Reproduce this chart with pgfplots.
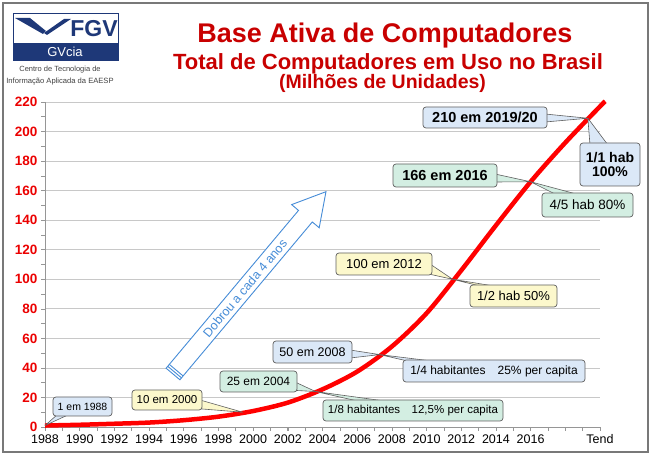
\documentclass[border=0pt]{standalone}
\usepackage{pgfplots}
\pgfplotsset{compat=1.18}
\usepackage{pgfplotstable}
\usepackage{fontspec}
\setmainfont{Liberation Sans}
\definecolor{titred}{RGB}{200,0,0}
\definecolor{tickred}{RGB}{235,0,0}
\definecolor{cblue}{RGB}{219,232,247}
\definecolor{cgreen}{RGB}{211,238,226}
\definecolor{cyellow}{RGB}{252,248,204}
\definecolor{cborder}{RGB}{95,95,95}
\definecolor{fgvblue}{RGB}{30,56,120}
\definecolor{arrblue}{RGB}{70,140,215}
\definecolor{gridgray}{RGB}{200,200,200}
\definecolor{axgray}{RGB}{150,150,150}
\definecolor{framegray}{RGB}{120,120,120}

\pgfplotstableread{
year value
1988 1.0
1990 1.5
1992 2.2
1994 3.0
1996 4.6
1998 7.0
2000 10.8
2002 16.5
2004 25.5
2006 37.5
2008 54.5
2010 77.0
2012 106.0
2014 136.5
2016 166.0
2018 192.5
2020 217.0
2020.3 220.5
}\datatable

\newcommand{\callout}[9]{%
  \fill[#1] (#6) -- (#8) -- (#7) -- cycle;
  \draw[cborder, line width=0.6pt, line join=round] (#6) -- (#8) -- (#7);
  \draw[cborder, line width=0.7pt, fill=#1, rounded corners=3pt] (#2,#3) rectangle (#4,#5);
  \node[align=center, inner sep=0pt] at ({(#2+#4)/2},{(#3+#5)/2}) {#9};
}

\begin{document}
\begin{tikzpicture}
\begin{axis}[
  at={(45pt,28pt)}, anchor=south west,
  width=555pt, height=325pt, scale only axis,
  xmin=1988, xmax=2020, ymin=0, ymax=220,
  clip=false,
  axis x line*=bottom, axis y line*=left,
  axis line style={draw=axgray, line width=0.8pt},
  xtick={1988,1990,...,2016,2020},
  xticklabels={1988,1990,1992,1994,1996,1998,2000,2002,2004,2006,2008,2010,2012,2014,2016,Tend},
  minor xtick={1988,...,2020},
  ytick={0,20,...,220},
  minor ytick={10,30,...,210},
  tick align=outside,
  major tick length=4pt, minor tick length=4pt,
  every tick/.style={draw=axgray, line width=0.6pt},
  ymajorgrids, major grid style={draw=gridgray, line width=0.8pt},
  /pgf/number format/assume math mode=true,
  yticklabel style={font=\fontsize{13.5}{13.5}\selectfont\bfseries, text=tickred},
  xticklabel style={font=\fontsize{12.5}{12.5}\selectfont, text=black},
]
\addplot[draw=red, line width=4.5pt, smooth] table[x=year,y=value]{\datatable};
\coordinate (t1988) at (axis cs:1988,1);
\coordinate (t2000) at (axis cs:1999.4,10);
\coordinate (t2004) at (axis cs:2003.6,24);
\coordinate (t2008) at (axis cs:2007.3,49);
\coordinate (t2012) at (axis cs:2011.5,100);
\coordinate (t2016) at (axis cs:2016,166);
\coordinate (t2020) at (axis cs:2019.3,209);
\end{axis}

\begin{scope}[x=1pt, y=-1pt, yshift=455pt]
  % frame
  \draw[framegray, line width=1.2pt] (3,3) rectangle (648,452);
  % logo
  \draw[fgvblue, line width=0.8pt, fill=white] (13,13) rectangle (118,60);
  \fill[fgvblue] (13,43) rectangle (118,60);
  \node[text=white, font=\fontsize{13}{13}\selectfont] at (65,51.5) {GVcia};
  \node[text=fgvblue, font=\fontsize{23}{23}\selectfont\bfseries, anchor=base] at (94,37) {FGV};
  \fill[fgvblue] (15,18) -- (30,18) -- (46,31) -- (43,34) -- cycle;
  \fill[fgvblue] (44,33) -- (64,19) -- (71,19) -- (47,35) -- cycle;
  \node[text=black!75, font=\fontsize{7.5}{8}\selectfont] at (60,70) {Centro de Tecnologia de};
  \node[text=black!75, font=\fontsize{7.6}{8}\selectfont] at (60,82) {Informação Aplicada da EAESP};
  % titles
  \node[anchor=base, text=titred, font=\fontsize{27}{27}\selectfont\bfseries] at (385,43) {Base Ativa de Computadores};
  \node[anchor=base, text=titred, font=\fontsize{22}{22}\selectfont\bfseries] at (388,70) {Total de Computadores em Uso no Brasil};
  \node[anchor=base, text=titred, font=\fontsize{19.5}{19.5}\selectfont\bfseries] at (382.5,89) {(Milhões de Unidades)};
  % arrow
  \begin{scope}[shift={(173,374)}, rotate=50]
    \draw[arrblue, line width=0.9pt, fill=white, line join=miter] (0,-9) -- (206,-9) -- (206,-18) -- (238,0) -- (206,18) -- (206,9) -- (0,9) -- cycle;
    \draw[arrblue, line width=0.9pt] (2.5,-9) -- (2.5,9) (5,-9) -- (5,9);
    \node[rotate=50, text=arrblue, font=\fontsize{12.5}{12.5}\selectfont, inner sep=0pt] at (112,0) {Dobrou a cada 4 anos};
  \end{scope}
  % callouts
  \callout{cblue}{53}{397}{112}{416}{58,414}{70,414}{t1988}{\fontsize{10.5}{12}\selectfont 1 em 1988}
  \callout{cyellow}{132}{390}{202}{410}{200,400}{190,408}{t2000}{\fontsize{11.5}{13}\selectfont 10 em 2000}
  \callout{cgreen}{220}{371}{297}{392}{295,382}{288,390}{t2004}{\fontsize{12}{14}\selectfont 25 em 2004}
  \callout{cgreen}{323}{400}{503}{421}{362,402}{392,402}{t2004}{\fontsize{11.5}{13}\selectfont 1/8 habitantes\hspace{1em}12,5\% per capita}
  \callout{cblue}{273}{341}{352}{363}{350,350}{350,358}{t2008}{\fontsize{12.5}{14}\selectfont 50 em 2008}
  \callout{cblue}{403}{360}{585}{382}{412,362}{440,362}{t2008}{\fontsize{12}{14}\selectfont 1/4 habitantes\hspace{1em}25\% per capita}
  \callout{cyellow}{336}{253}{432}{275}{430,264}{424,273}{t2012}{\fontsize{13}{15}\selectfont 100 em 2012}
  \callout{cyellow}{470}{285}{557}{307}{484,287}{500,287}{t2012}{\fontsize{13}{15}\selectfont 1/2 hab 50\%}
  \callout{cgreen}{393}{164}{497}{187}{495,174}{495,182}{t2016}{\fontsize{14.5}{16}\selectfont\bfseries 166 em 2016}
  \callout{cgreen}{542}{193}{633}{217}{557,195}{580,195}{t2016}{\fontsize{13.5}{15}\selectfont 4/5 hab 80\%}
  \callout{cblue}{423}{107}{547}{128}{545,114}{545,122}{t2020}{\fontsize{14.5}{16}\selectfont\bfseries 210 em 2019/20}
  \callout{cblue}{580}{143}{640}{186}{590,145}{608,145}{t2020}{{\fontsize{14}{18}\selectfont\bfseries 1/1 hab}\\[2pt]{\fontsize{14}{18}\selectfont\bfseries 100\%}}
\end{scope}
\pgfresetboundingbox
\useasboundingbox (0,0) rectangle (651pt,455pt);
\end{tikzpicture}
\end{document}
